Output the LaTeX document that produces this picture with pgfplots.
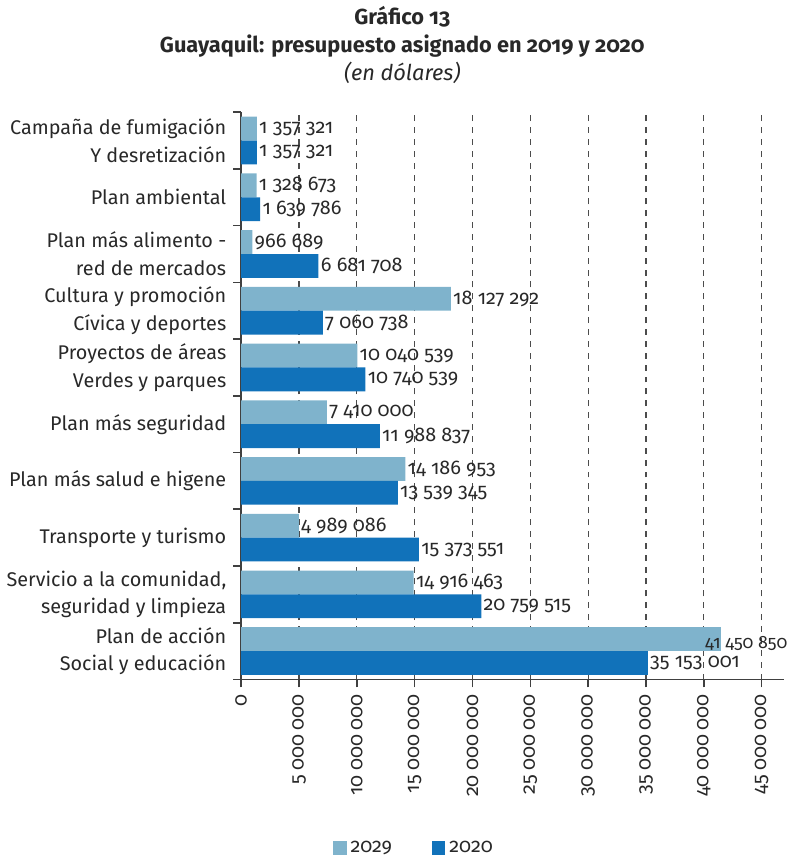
\documentclass[border=0pt]{standalone}
\usepackage{fontspec}
\setmainfont{Fira Sans}[Numbers=OldStyle]
\usepackage{pgfplots}
\pgfplotsset{compat=1.18}
\usepackage{pgfplotstable}
\definecolor{light}{RGB}{127,179,204}
\definecolor{dark}{RGB}{17,114,186}
\definecolor{txt}{RGB}{40,40,40}

% y = 9 is the top category
\pgfplotstableread[col sep=comma]{
y,v,lbl
9,1357321,1 357 321
8,1328673,1 328 673
7,966689,966 689
6,18127292,18 127 292
5,10040539,10 040 539
4,7410000,7 410 000
3,14186953,14 186 953
2,4989086,4 989 086
1,14916463,14 916 463
}\serieslight

% longest bar: its label sits over the bar end
\pgfplotstableread[col sep=comma]{
y,v,lbl
0,41450850,41 450 850
}\serieslightlong

\pgfplotstableread[col sep=comma]{
y,v,lbl
9,1357321,1 357 321
8,1639786,1 639 786
7,6681708,6 681 708
6,7060738,7 060 738
5,10740539,10 740 539
4,11988837,11 988 837
3,13539345,13 539 345
2,15373551,15 373 551
1,20759515,20 759 515
0,35153001,35 153 001
}\seriesdark

\begin{document}
\begin{tikzpicture}
\begin{axis}[
    scale only axis,
    width=274pt, height=286.5pt,
    xbar, bar width=0.42,
    xmin=0, xmax=46.9e6,
    ymin=-0.5, ymax=9.5,
    axis x line=bottom, axis y line=left,
    axis line style={-, black!75, line width=0.8pt},
    clip=false,
    tick align=outside,
    tick style={black!75, line width=0.8pt},
    xtick={0,5000000,10000000,15000000,20000000,25000000,30000000,35000000,40000000,45000000},
    scaled x ticks=false,
    /pgf/number format/fixed,
    /pgf/number format/1000 sep={\hspace{0.22em}},
    /pgf/number format/assume math mode=true,
    xticklabel style={rotate=90, anchor=east, font=\fontsize{10}{12}\selectfont, text=txt},
    major tick length=4pt,
    xmajorgrids,
    grid style={dashed, black!70, line width=0.6pt},
    ytick={0,...,9},
    yticklabels={
        {Plan de acción\\Social y educación},
        {Servicio a la comunidad,\\seguridad y limpieza},
        {Transporte y turismo},
        {Plan más salud e higene},
        {Plan más seguridad},
        {Proyectos de áreas\\Verdes y parques},
        {Cultura y promoción\\Cívica y deportes},
        {Plan más alimento -\\red de mercados},
        {Plan ambiental},
        {Campaña de fumigación\\Y desretización}},
    yticklabel style={align=right, font=\fontsize{10}{14}\selectfont, text=txt},
    ytick style={draw=none},
    minor ytick={-0.5,0.5,...,9.5},
    minor tick length=4pt,
    minor y tick style={draw=black!75, line width=0.8pt},
    legend style={at={(axis description cs:0.32,-0.297)}, anchor=center,
        draw=none, legend columns=2, font=\fontsize{10}{12}\selectfont, text=txt,
        /tikz/every even column/.append style={column sep=18pt}},
    legend image code/.code={\fill[#1] (0pt,-3.5pt) rectangle (7pt,3.5pt);},
    point meta=explicit symbolic,
    nodes near coords={\pgfplotspointmeta},
    every node near coord/.append style={anchor=west, inner sep=1pt,
        font=\fontsize{10}{11}\selectfont, text=txt},
]
\addplot[fill=light, draw=none, bar shift=0.21] table[x=v, y=y, meta=lbl] {\serieslight};
\addplot[fill=dark, draw=none, bar shift=-0.21] table[x=v, y=y, meta=lbl] {\seriesdark};
\addplot[fill=light, draw=none, bar shift=0.21, forget plot,
    every node near coord/.append style={xshift=-9pt, yshift=-2pt,
        font=\fontsize{9}{10}\selectfont}] table[x=v, y=y, meta=lbl] {\serieslightlong};
\legend{2029, 2020}
\node[anchor=south, align=center, text=txt, font=\fontsize{11}{14}\selectfont]
    at (rel axis cs:0.297,1) [yshift=11pt]
    {\textbf{Gráfico 13}\\\textbf{Guayaquil: presupuesto asignado en 2019 y 2020}\\\textit{(en dólares)}};
\end{axis}
\end{tikzpicture}
\end{document}
